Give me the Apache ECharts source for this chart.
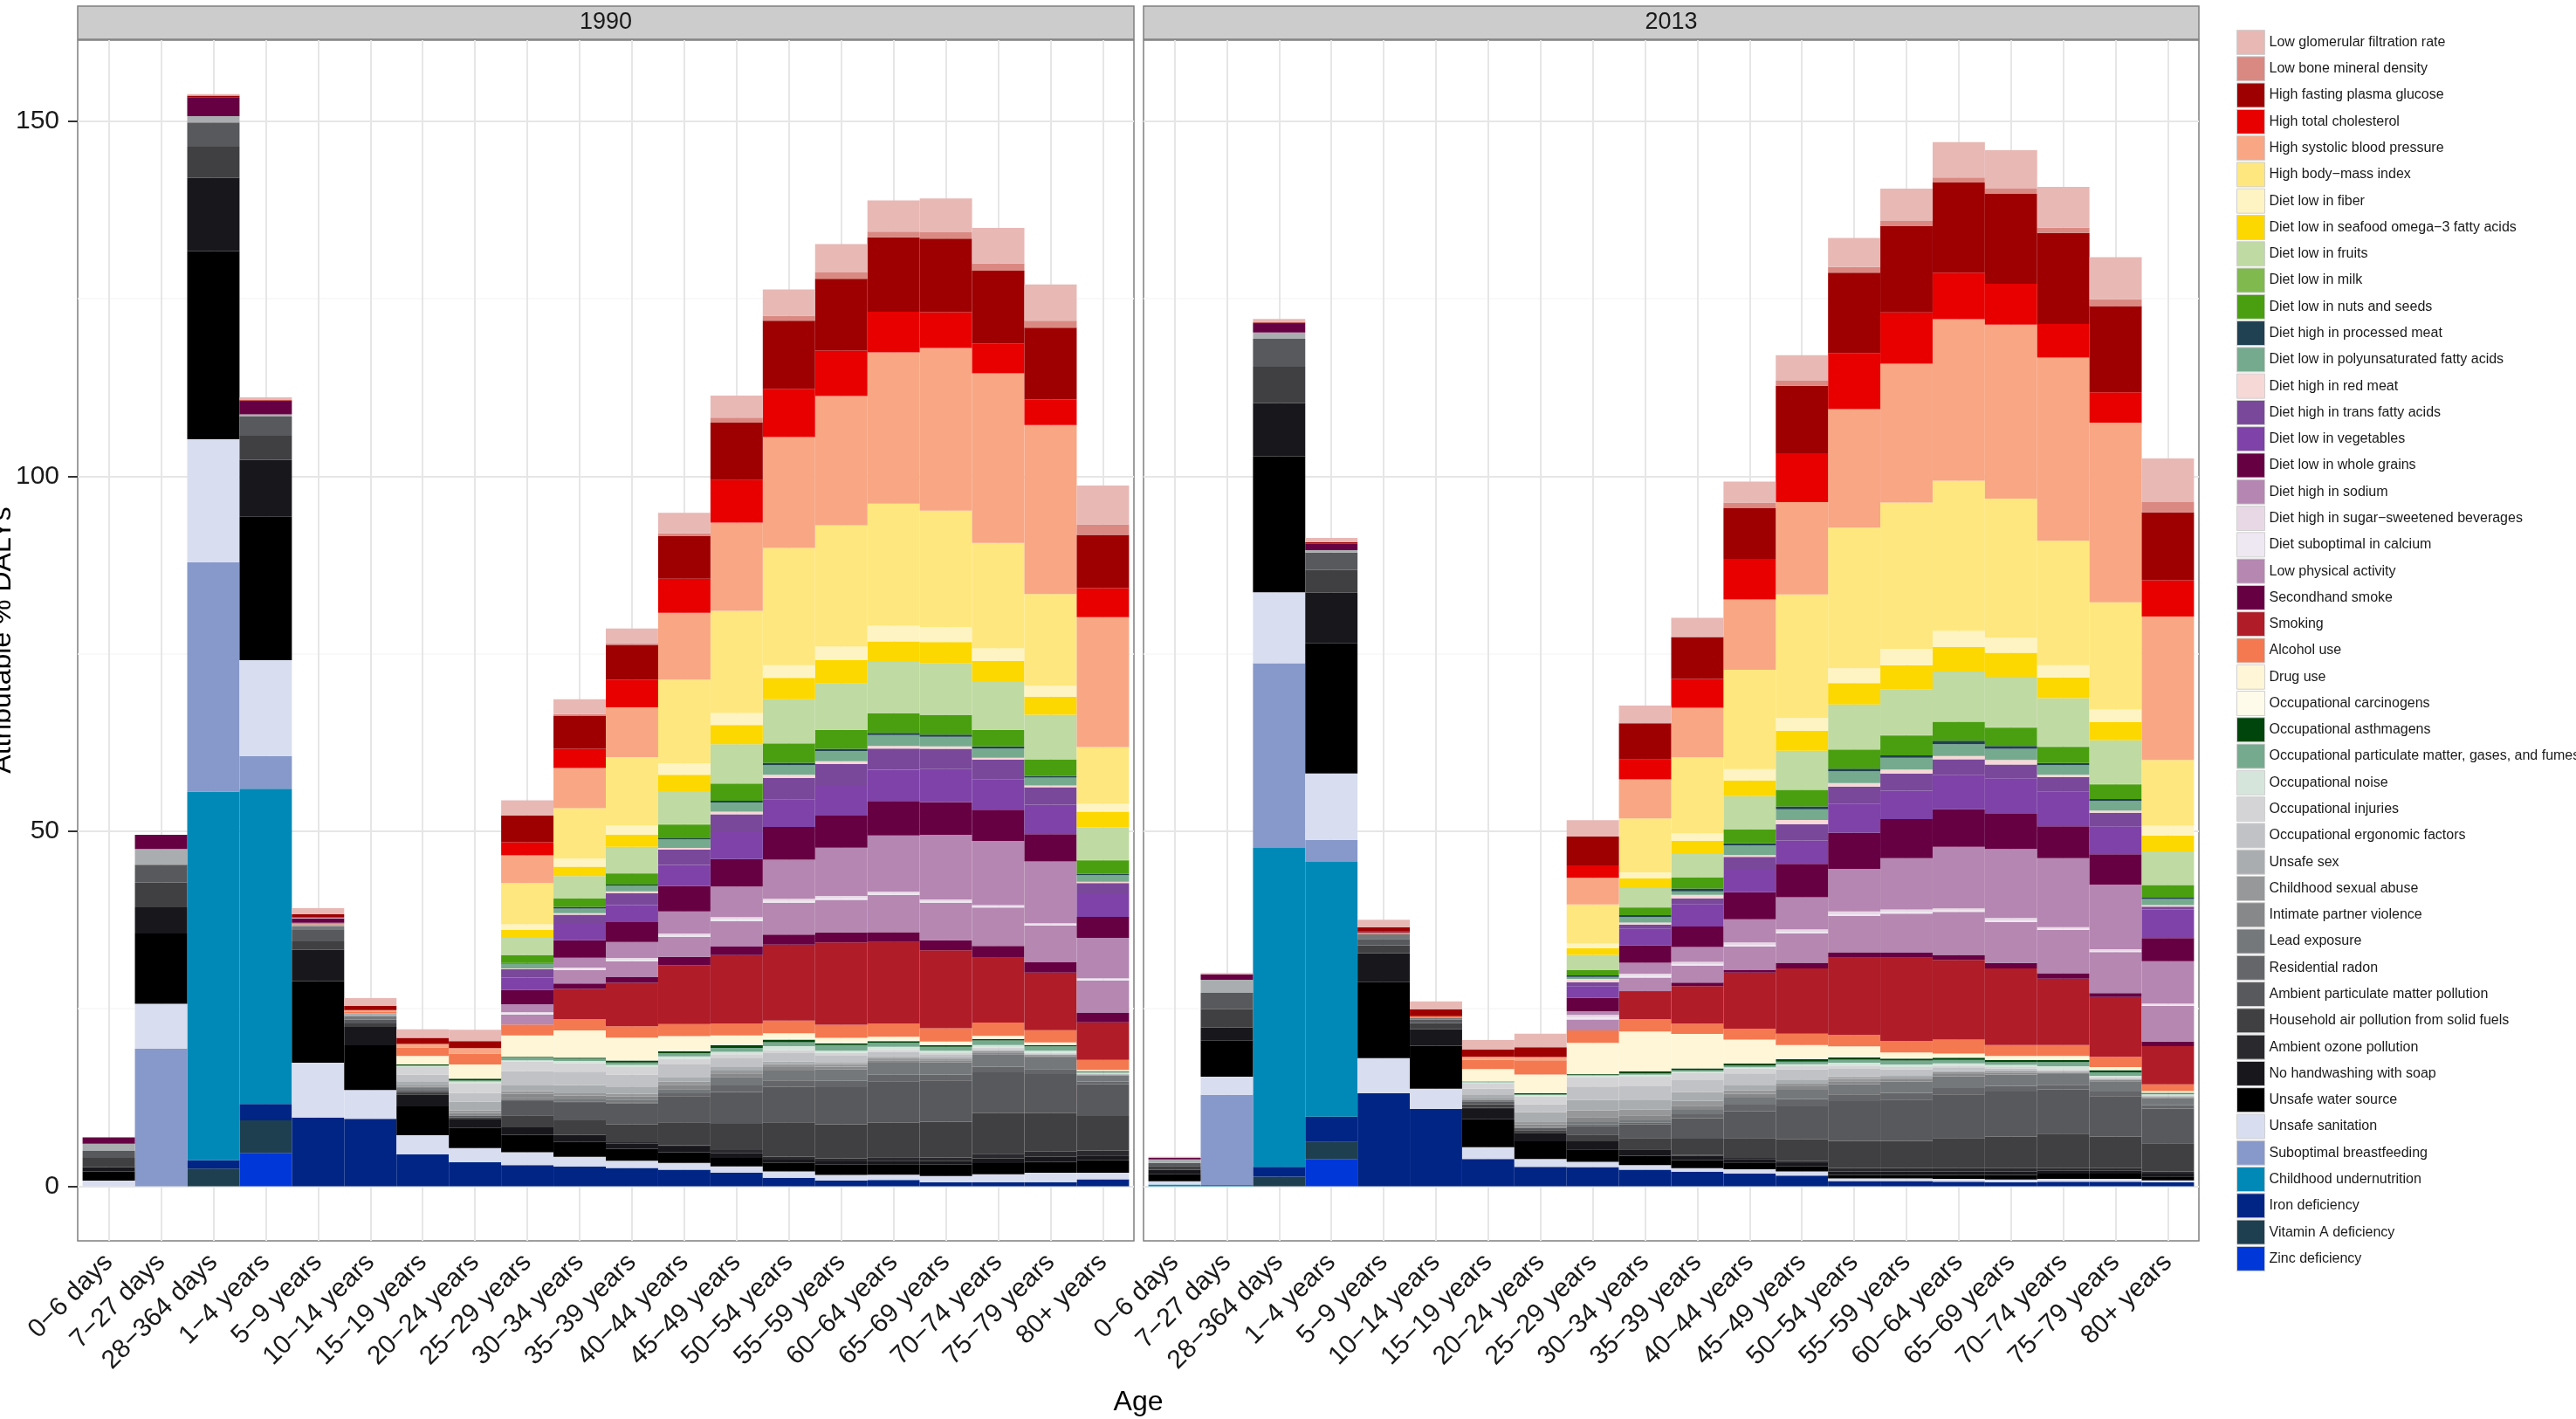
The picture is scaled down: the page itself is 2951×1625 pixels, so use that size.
<!DOCTYPE html>
<html><head><meta charset="utf-8">
<script src="https://cdn.jsdelivr.net/npm/echarts@6/dist/echarts.min.js"></script>
<style>html,body{margin:0;padding:0;background:#fff}#c{width:2951px;height:1625px}</style>
</head><body><div id="c"></div>
<script>
const ages = ['0\u22126 days','7\u221227 days','28\u2212364 days','1\u22124 years','5\u22129 years','10\u221214 years','15\u221219 years','20\u221224 years','25\u221229 years','30\u221234 years','35\u221239 years','40\u221244 years','45\u221249 years','50\u221254 years','55\u221259 years','60\u221264 years','65\u221269 years','70\u221274 years','75\u221279 years','80+ years'];
const years = ['1990','2013'];
const yTicks = [0,50,100,150];
const yMinor = [25,75,125];

// legend order (top of stack first)
const risks = ['Low glomerular filtration rate','Low bone mineral density','High fasting plasma glucose','High total cholesterol','High systolic blood pressure','High body\u2212mass index','Diet low in fiber','Diet low in seafood omega\u22123 fatty acids','Diet low in fruits','Diet low in milk','Diet low in nuts and seeds','Diet high in processed meat','Diet low in polyunsaturated fatty acids','Diet high in red meat','Diet high in trans fatty acids','Diet low in vegetables','Diet low in whole grains','Diet high in sodium','Diet high in sugar\u2212sweetened beverages','Diet suboptimal in calcium','Low physical activity','Secondhand smoke','Smoking','Alcohol use','Drug use','Occupational carcinogens','Occupational asthmagens','Occupational particulate matter, gases, and fumes','Occupational noise','Occupational injuries','Occupational ergonomic factors','Unsafe sex','Childhood sexual abuse','Intimate partner violence','Lead exposure','Residential radon','Ambient particulate matter pollution','Household air pollution from solid fuels','Ambient ozone pollution','No handwashing with soap','Unsafe water source','Unsafe sanitation','Suboptimal breastfeeding','Childhood undernutrition','Iron deficiency','Vitamin A deficiency','Zinc deficiency'];
const riskColors = ['#E8B8B5','#DA8982','#9E0002','#E80000','#F8A684','#FEE77E','#FEF4C3','#FDD700','#BFDAA2','#80B94E','#4A9F10','#1F4151','#76AA8F','#F6D8D6','#79489A','#7E42A8','#660043','#B586B1','#E8D8E6','#EEE8F3','#B587B1','#660043','#B01C28','#F47950','#FEF6D7','#FFFBEB','#00450B','#76AA8F','#D6E5DC','#D4D4D6','#C1C2C5','#AAADAF','#96989A','#87888A','#75787B','#646669','#58595C','#404043','#2A2A2E','#18181C','#000000','#D8DDEF','#8799CA','#0089B7','#002585','#1E3F4F','#0037D9'];

// ---- 1990 values (Attributable % DALYs), one entry per age group ----
const gfr_1990      = [0,0,0.2,0.4,0.86,1.1,1.2,1.6,2.1,2.1,2.1,2.9,3.1,3.7,4.0,4.4,4.75,5.0,5.1,5.5];
const bone_1990     = [0,0,0,0,0,0,0,0,0,0.2,0.2,0.4,0.7,0.7,0.9,0.8,0.9,1.0,1.0,1.45];
const fpg_1990      = [0,0,0.3,0.2,0.45,0.6,0.86,1.0,3.8,4.7,4.9,6.0,8.1,9.6,10.1,10.5,10.35,10.25,10.1,7.5];
const tc_1990       = [0,0,0,0,0,0,0,0,1.85,2.7,3.9,4.8,6.0,6.8,6.4,5.7,5.05,4.2,3.6,4.1];
const sbp_1990      = [0,0,0,0,0,0.25,0.5,0.75,3.9,5.65,7.0,9.4,12.4,15.6,18.2,21.3,22.9,23.9,23.8,18.3];
const bmi_1990      = [0,0,0,0,0,0,0,0,5.8,7.1,9.6,11.8,14.4,16.5,17.1,17.2,16.4,14.85,12.9,8.0];
const fiber_1990    = [0,0,0,0,0,0,0,0,0.8,1.15,1.35,1.6,1.7,1.8,1.9,2.2,2.1,1.75,1.55,1.1];
const seafood_1990  = [0,0,0,0,0,0,0,0,1.1,1.3,1.7,2.3,2.7,3.0,3.3,2.9,2.95,2.85,2.55,2.2];
const fruits_1990   = [0,0,0,0,0,0,0,0,2.4,3.1,3.7,4.65,5.5,6.2,6.5,7.2,7.3,6.85,6.25,4.6];
const milk_1990     = [0,0,0,0,0,0,0,0,0.05,0.05,0.05,0.05,0.05,0.05,0.05,0.05,0.05,0.05,0.05,0.05];
const nuts_1990     = [0,0,0,0,0,0,0,0,1.1,1.2,1.55,1.95,2.4,2.7,2.65,2.75,2.75,2.3,2.3,1.9];
const procmeat_1990 = [0,0,0,0,0,0,0,0,0.1,0.25,0.15,0.15,0.25,0.35,0.3,0.3,0.3,0.3,0.25,0.2];
const pufa_1990     = [0,0,0,0,0,0,0,0,0.65,0.65,0.8,1.2,1.3,1.35,1.45,1.55,1.35,1.3,1.1,0.9];
const redmeat_1990  = [0,0,0,0,0.1,0,0,0,0.1,0.2,0.25,0.2,0.35,0.45,0.35,0.35,0.35,0.25,0.25,0.2];
const trans_1990    = [0,0,0,0,0,0,0,0,1.2,1.3,1.7,2.2,2.4,3.0,3.0,3.0,2.85,2.75,2.45,1.45];
const veg_1990      = [0,0,0,0,0,0,0,0,1.75,2.3,2.4,2.95,3.9,3.9,4.3,4.4,4.65,4.3,4.15,3.3];
const grains_1990   = [0,0,0,0,0,0,0,0,2.0,2.45,2.8,3.6,3.9,4.6,4.5,4.85,4.6,4.4,3.85,2.95];
const sodium_1990   = [0,0,0,0,0,0,0,0,1.1,1.4,2.25,3.1,4.3,5.5,6.8,7.9,9.1,9.05,8.7,5.7];
const ssb_1990      = [0,0,0,0,0,0,0,0,0.2,0.2,0.25,0.3,0.3,0.3,0.3,0.3,0.25,0.2,0.2,0.15];
const calcium_1990  = [0,0,0,0,0,0,0,0,0.15,0.15,0.2,0.2,0.25,0.25,0.25,0.2,0.2,0.15,0.15,0.15];
const physical_1990 = [0,0,0,0,0,0,0,0,1.4,1.9,2.25,2.8,3.6,4.5,4.6,5.2,5.3,5.4,5.15,4.6];
const shsmoke_1990  = [0.9,2.0,2.6,1.8,0.65,0,0,0,0,0.75,0.8,1.15,1.2,1.4,1.4,1.4,1.4,1.65,1.45,1.3];
const smoking_1990  = [0,0,0,0,0,0,0,0,0,4.25,6.1,8.3,9.6,10.7,11.6,11.45,11.0,9.15,8.1,5.3];
const alcohol_1990  = [0,0,0,0,0.2,0.2,1.2,1.55,1.55,1.6,1.6,1.7,1.7,1.8,1.85,1.9,1.85,1.85,1.75,1.4];
const drug_1990     = [0,0,0,0,0,0,1.2,2.0,3.0,3.8,3.2,2.0,1.3,0.75,0.6,0.45,0.35,0.35,0.25,0.15];
const carcin_1990   = [0,0,0,0,0,0,0,0,0,0.05,0.05,0.1,0.1,0.15,0.15,0.15,0.15,0.1,0.1,0.05];
const asthma_1990   = [0,0,0,0,0,0,0.1,0.25,0.1,0.15,0.25,0.3,0.35,0.35,0.25,0.25,0.25,0.2,0.2,0.1];
const occpm_1990    = [0,0,0,0,0,0,0.1,0.15,0.4,0.3,0.35,0.45,0.55,0.55,0.8,0.55,0.55,0.65,0.6,0.1];
const noise_1990    = [0,0,0,0,0,0,0.15,0.3,0.15,0.35,0.3,0.35,0.35,0.55,0.3,0.45,0.35,0.35,0.3,0.05];
const injuries_1990 = [0,0,0,0,0,0,1.1,1.3,1.4,1.15,1.05,0.8,0.5,0.45,0.4,0.3,0.25,0.2,0.15,0.1];
const ergo_1990     = [0,0,0,0,0,0,0.9,1.25,2.0,1.9,1.7,1.85,1.3,1.15,0.9,0.6,0.35,0.2,0.1,0.05];
const unsafesex_1990= [1.0,2.2,0.9,0.3,0.3,0.2,0.5,1.2,0.8,1.15,1.0,0.55,0.5,0.4,0.3,0.25,0.15,0.1,0.05,0.05];
const csa_1990      = [0,0,0,0,0,0.2,0.3,0.35,0.4,0.35,0.4,0.45,0.4,0.4,0.35,0.3,0.25,0.2,0.15,0.1];
const ipv_1990      = [0,0,0,0,0,0,0.15,0.35,0.6,0.5,0.45,0.6,0.5,0.5,0.4,0.35,0.3,0.25,0.2,0.1];
const lead_1990     = [0,0,0,0,0.5,0.5,0.3,0.1,0.25,0.3,0.35,0.6,1.2,1.4,1.6,1.7,1.7,1.75,1.65,0.8];
const radon_1990    = [0,0,0,0,0,0,0,0,0.15,0.2,0.2,0.4,0.9,0.9,0.9,0.9,0.85,0.8,0.7,0.35];
const ambpm_1990    = [1.0,2.5,3.4,2.7,1.6,0.5,0.3,0.2,2.0,2.45,2.95,3.7,4.5,5.0,5.2,5.85,5.8,5.75,5.5,4.5];
const hap_1990      = [1.3,3.5,4.4,3.4,1.2,0.5,0.3,0.3,1.7,2.05,2.5,3.2,3.7,4.8,4.8,4.85,5.05,5.7,5.4,4.85];
const ozone_1990    = [0,0,0,0,0,0,0.1,0,0,0,0.2,0.2,0.45,0.45,0.45,0.5,0.5,0.65,0.7,0.7];
const handwash_1990 = [0.6,3.7,10.3,8.0,4.4,2.6,1.6,1.2,1.05,1.0,0.7,0.8,0.65,0.45,0.45,0.5,0.5,0.7,0.75,0.65];
const water_1990    = [1.3,9.9,26.5,20.2,11.5,6.3,4.05,2.8,2.45,2.1,1.7,1.5,1.2,1.2,1.45,1.45,1.6,1.55,1.55,1.8];
const sanit_1990    = [0.8,6.3,17.3,13.5,7.7,4.05,2.7,2.0,1.8,1.35,1.0,0.95,0.9,0.9,0.8,0.75,0.9,1.1,1.3,0.9];
const breast_1990   = [0,19.4,32.3,4.6,0,0,0,0,0,0,0,0,0,0,0,0,0,0,0,0];
const undernut_1990 = [0,0,51.9,44.4,0,0,0,0,0,0,0,0,0,0,0,0,0,0,0,0];
const iron_1990     = [0,0,1.2,2.3,9.7,9.5,4.5,3.4,3.0,2.8,2.6,2.35,1.9,1.2,0.8,0.9,0.55,0.6,0.6,1.0];
const vita_1990     = [0,0,2.5,4.6,0,0,0,0,0,0,0,0,0,0,0,0,0,0,0,0];
const zinc_1990     = [0,0,0,4.7,0,0,0,0,0,0,0,0,0,0,0,0,0,0,0,0];

// ---- 2013 values ----
const gfr_2013      = [0.15,0.2,0.5,0.6,1.1,1.1,1.35,1.9,2.3,2.5,2.7,2.95,3.6,4.1,4.55,5.0,5.4,5.75,5.95,6.15];
const bone_2013     = [0,0,0,0,0,0,0,0,0,0,0,0.75,0.7,0.8,0.75,0.7,0.75,0.75,0.95,1.45];
const fpg_2013      = [0,0,0.2,0.2,0.5,1.0,1.0,1.4,4.05,5.1,5.9,7.2,9.5,11.3,12.15,12.7,12.65,12.8,12.15,9.55];
const tc_2013       = [0,0,0,0,0,0,0,0,1.75,2.8,4.05,5.7,6.9,7.9,7.2,6.55,5.75,4.75,4.25,5.1];
const sbp_2013      = [0,0,0,0,0,0,0.45,0.45,3.75,5.5,7.0,9.9,13.0,16.7,19.55,22.75,24.5,25.8,25.3,20.2];
const bmi_2013      = [0,0,0,0,0,0,0,0,5.5,7.6,10.7,14.0,17.4,19.8,20.6,21.15,19.6,17.5,15.1,9.25];
const fiber_2013    = [0,0,0,0,0,0,0,0,0.65,0.85,1.05,1.6,1.8,2.1,2.3,2.25,2.1,1.75,1.75,1.4];
const seafood_2013  = [0,0,0,0,0,0,0,0,0.95,1.35,1.85,2.2,2.8,3.0,3.4,3.45,3.4,2.9,2.6,2.25];
const fruits_2013   = [0,0,0,0,0,0,0,0,2.1,2.7,3.25,4.65,5.5,6.3,6.45,7.05,7.1,6.8,6.15,4.7];
const milk_2013     = [0,0,0,0,0,0,0,0,0.05,0.05,0.05,0.05,0.05,0.05,0.05,0.05,0.05,0.05,0.05,0.05];
const nuts_2013     = [0,0,0,0,0,0,0,0,0.75,1.05,1.55,1.95,2.3,2.7,2.8,2.65,2.6,2.3,2.05,1.75];
const procmeat_2013 = [0,0,0,0,0,0,0,0,0.2,0.3,0.4,0.3,0.4,0.35,0.35,0.5,0.4,0.3,0.3,0.2];
const pufa_2013     = [0,0,0,0,0,0,0,0,0.3,0.75,0.5,1.35,1.5,1.65,1.65,1.65,1.55,1.35,1.35,0.85];
const redmeat_2013  = [0,0,0,0,0,0,0,0,0.45,0.3,0.5,0.25,0.6,0.5,0.6,0.45,0.65,0.3,0.3,0.2];
const trans_2013    = [0,0,0,0,0,0,0,0,0.55,0.55,0.8,1.7,2.3,2.4,2.4,2.25,1.95,2.1,1.9,0.4];
const veg_2013      = [0,0,0,0,0,0,0,0,1.65,2.4,3.15,3.3,3.3,4.1,4.0,4.8,5.0,4.85,3.95,4.05];
const grains_2013   = [0,0,0,0,0,0,0,0,1.9,2.4,2.9,3.8,4.7,5.1,5.5,5.3,4.95,4.5,4.25,3.25];
const sodium_2013   = [0,0,0,0,0,0,0,0,0.5,1.55,2.1,3.25,4.5,6.0,7.2,8.65,9.7,9.7,9.1,5.95];
const ssb_2013      = [0,0,0,0,0,0,0,0,0.35,0.3,0.3,0.35,0.35,0.4,0.35,0.3,0.35,0.25,0.25,0.2];
const calcium_2013  = [0,0,0,0,0,0,0,0,0.3,0.25,0.2,0.25,0.25,0.25,0.25,0.2,0.25,0.15,0.15,0.15];
const physical_2013 = [0,0,0,0,0,0,0,0,1.55,1.9,2.4,3.25,4.1,5.1,5.5,6.05,5.75,6.1,5.8,5.0];
const shsmoke_2013  = [0.2,0.75,1.2,0.9,0.2,0,0,0,0,0.1,0.5,0.4,0.8,0.75,0.7,0.7,0.75,0.75,0.55,0.65];
const smoking_2013  = [0,0,0,0,0,0,0,0,0,3.85,5.3,7.9,9.2,10.9,11.75,11.25,10.8,9.35,8.4,5.4];
const alcohol_2013  = [0,0,0,0,0.25,0.2,1.3,2.0,1.75,1.75,1.45,1.55,1.6,1.6,1.6,1.95,1.55,1.55,1.45,0.95];
const drug_2013     = [0,0,0,0,0,0,1.75,2.65,4.4,5.6,4.8,3.25,1.9,1.4,0.7,0.45,0.4,0.4,0.35,0.2];
const carcin_2013   = [0,0,0,0,0,0,0,0,0,0,0.05,0.1,0.1,0.15,0.15,0.15,0.15,0.15,0.1,0.05];
const asthma_2013   = [0,0,0,0,0,0,0.05,0.15,0.1,0.3,0.25,0.3,0.35,0.3,0.3,0.3,0.3,0.3,0.3,0.1];
const occpm_2013    = [0,0,0,0,0,0,0.05,0.1,0.1,0.2,0.2,0.25,0.35,0.45,0.55,0.5,0.4,0.6,0.5,0.1];
const noise_2013    = [0,0,0,0,0,0,0.1,0.2,0.2,0.25,0.2,0.15,0.2,0.4,0.35,0.3,0.3,0.4,0.25,0.05];
const injuries_2013 = [0,0,0,0,0,0,0.8,1.1,1.35,1.35,1.0,0.7,0.55,0.45,0.35,0.25,0.2,0.15,0.1,0.1];
const ergo_2013     = [0,0,0,0,0,0,0.8,1.1,1.9,1.9,1.7,1.6,1.4,1.05,0.8,0.5,0.3,0.15,0.1,0.1];
const unsafesex_2013= [0.5,1.85,0.9,0.35,0,0,0.5,1.3,1.45,1.4,1.2,0.8,0.5,0.35,0.25,0.2,0.1,0.05,0.05,0.05];
const csa_2013      = [0,0,0,0,0,0,0.3,0.4,0.95,0.8,0.7,0.5,0.45,0.35,0.3,0.25,0.2,0.15,0.1,0.1];
const ipv_2013      = [0,0,0,0,0,0,0,0.4,0.7,0.7,0.6,0.5,0.5,0.4,0.35,0.3,0.25,0.2,0.15,0.15];
const lead_2013     = [0,0,0,0,0.65,0.3,0.2,0.15,0.35,0.35,0.6,1.0,1.3,1.45,1.6,1.65,1.6,1.5,1.45,1.0];
const radon_2013    = [0,0,0,0,0,0,0,0,0.25,0.25,0.55,0.95,1.05,0.95,0.95,0.9,0.8,0.65,0.65,0.45];
const ambpm_2013    = [0.45,2.3,3.95,2.45,0.9,0.45,0.4,0.3,1.15,1.9,2.9,3.75,4.65,5.6,5.8,6.15,6.35,6.25,5.7,4.9];
const hap_2013      = [0.5,2.55,5.1,3.2,1.1,0.9,0.5,0.35,0.95,1.6,2.3,2.8,3.05,3.8,3.8,4.25,4.45,4.85,4.45,3.95];
const ozone_2013    = [0,0,0,0,0,0,0.15,0,0,0,0.1,0.15,0.3,0.5,0.5,0.45,0.45,0.35,0.35,0.3];
const handwash_2013 = [0.65,1.9,7.5,7.15,4.1,2.3,1.45,1.2,1.15,0.9,0.6,0.5,0.45,0.5,0.5,0.5,0.5,0.4,0.4,0.4];
const water_2013    = [1.0,5.05,19.15,18.3,10.7,6.05,3.95,2.5,1.75,1.3,1.15,0.95,0.7,0.5,0.5,0.55,0.65,0.75,0.75,0.55];
const sanit_2013    = [0.45,2.55,10.0,9.35,4.95,2.85,1.65,1.1,0.75,0.65,0.5,0.6,0.6,0.35,0.35,0.4,0.4,0.4,0.4,0.3];
const breast_2013   = [0,12.7,26.0,3.1,0,0,0,0,0,0,0,0,0,0,0,0,0,0,0,0];
const undernut_2013 = [0.25,0.2,44.9,35.9,0,0,0,0,0,0,0,0,0,0,0,0,0,0,0,0];
const iron_2013     = [0,0,1.4,3.55,13.1,10.9,3.85,2.75,2.7,2.35,2.05,1.8,1.5,0.75,0.75,0.65,0.55,0.65,0.65,0.55];
const vita_2013     = [0,0,1.35,2.4,0,0,0,0,0,0,0,0,0,0,0,0,0,0,0,0];
const zinc_2013     = [0,0,0,3.85,0,0,0,0,0,0,0,0,0,0,0,0,0,0,0,0];

const values1990 = [gfr_1990,bone_1990,fpg_1990,tc_1990,sbp_1990,bmi_1990,fiber_1990,seafood_1990,fruits_1990,milk_1990,nuts_1990,procmeat_1990,pufa_1990,redmeat_1990,trans_1990,veg_1990,grains_1990,sodium_1990,ssb_1990,calcium_1990,physical_1990,shsmoke_1990,smoking_1990,alcohol_1990,drug_1990,carcin_1990,asthma_1990,occpm_1990,noise_1990,injuries_1990,ergo_1990,unsafesex_1990,csa_1990,ipv_1990,lead_1990,radon_1990,ambpm_1990,hap_1990,ozone_1990,handwash_1990,water_1990,sanit_1990,breast_1990,undernut_1990,iron_1990,vita_1990,zinc_1990];
const values2013 = [gfr_2013,bone_2013,fpg_2013,tc_2013,sbp_2013,bmi_2013,fiber_2013,seafood_2013,fruits_2013,milk_2013,nuts_2013,procmeat_2013,pufa_2013,redmeat_2013,trans_2013,veg_2013,grains_2013,sodium_2013,ssb_2013,calcium_2013,physical_2013,shsmoke_2013,smoking_2013,alcohol_2013,drug_2013,carcin_2013,asthma_2013,occpm_2013,noise_2013,injuries_2013,ergo_2013,unsafesex_2013,csa_2013,ipv_2013,lead_2013,radon_2013,ambpm_2013,hap_2013,ozone_2013,handwash_2013,water_2013,sanit_2013,breast_2013,undernut_2013,iron_2013,vita_2013,zinc_2013];

const FONT = '"Liberation Sans", Arial, Helvetica, sans-serif';
const Y_MIN = -7.68, Y_MAX = 161.4;
const panels = [
  {left: 89, width: 1210, vals: values1990, label: years[0]},
  {left: 1310, width: 1209, vals: values2013, label: years[1]}
];
const TOP = 46, HEIGHT = 1375;
const EXP = 0.0935; // fraction of a category band between panel border and first bar

const chart = echarts.init(document.getElementById('c'), null, {renderer: 'canvas'});
const grid = [], xAxis = [], yAxis = [], series = [], graphic = [];

panels.forEach((p, k) => {
  const band = p.width / (ages.length + 2 * EXP);
  const inset = band * EXP;
  // helper grid = panel border + horizontal grid lines
  grid.push({left: p.left, top: TOP, width: p.width, height: HEIGHT, show: true,
    backgroundColor: '#fff', borderColor: '#7F7F7F', borderWidth: 1.5, z: 0});
  // data grid
  grid.push({left: p.left + inset, top: TOP, width: p.width - 2 * inset, height: HEIGHT, show: false});
  const hx = xAxis.length;
  xAxis.push({gridIndex: 2 * k, type: 'value', min: 0, max: 1, show: false});
  xAxis.push({gridIndex: 2 * k + 1, type: 'category', data: ages, boundaryGap: true,
    axisLine: {show: false},
    axisTick: {show: true, alignWithLabel: true, length: 11, lineStyle: {color: '#333', width: 2}},
    axisLabel: {interval: 0, rotate: 45, fontSize: 30, color: '#1a1a1a', fontFamily: FONT, margin: 20},
    splitLine: {show: false}});
  yAxis.push({gridIndex: 2 * k, type: 'value', min: Y_MIN, max: Y_MAX,
    axisLine: {show: false}, splitLine: {show: false},
    axisTick: {show: k === 0, customValues: yTicks, length: 11, lineStyle: {color: '#333', width: 2}},
    axisLabel: {show: k === 0, customValues: yTicks, fontSize: 30, color: '#1a1a1a', fontFamily: FONT, margin: 21}});
  yAxis.push({gridIndex: 2 * k + 1, type: 'value', min: Y_MIN, max: Y_MAX, show: false});

  // horizontal grid lines (major + minor)
  series.push({type: 'line', xAxisIndex: hx, yAxisIndex: 2 * k, data: [[0.5, Y_MIN - 100]],
    symbol: 'none', silent: true, lineStyle: {opacity: 0}, z: 0,
    markLine: {silent: true, symbol: ['none', 'none'], label: {show: false}, z: 1, animation: false,
      data: yTicks.map(v => ({yAxis: v, lineStyle: {color: '#E6E6E6', width: 2, type: 'solid'}}))
        .concat(yMinor.map(v => ({yAxis: v, lineStyle: {color: '#F7F7F7', width: 1.5, type: 'solid'}})))}});
  // vertical grid lines at category centres
  series.push({type: 'line', xAxisIndex: hx + 1, yAxisIndex: 2 * k + 1, data: ages.map(() => '-'),
    symbol: 'none', silent: true, lineStyle: {opacity: 0}, z: 0,
    markLine: {silent: true, symbol: ['none', 'none'], label: {show: false}, z: 1, animation: false,
      data: ages.map(a => ({xAxis: a, lineStyle: {color: '#E6E6E6', width: 2, type: 'solid'}}))}});

  // stacked bars: bottom of stack = last legend entry
  for (let r = risks.length - 1; r >= 0; r--) {
    series.push({type: 'bar', name: risks[r], xAxisIndex: hx + 1, yAxisIndex: 2 * k + 1,
      stack: 'stack' + p.label, barCategoryGap: '0%', data: p.vals[r], z: 3,
      itemStyle: {color: riskColors[r]}, emphasis: {disabled: true}, silent: true});
  }

  // facet strip
  graphic.push({type: 'rect', shape: {x: p.left, y: 7, width: p.width, height: 38},
    style: {fill: '#CCCCCC', stroke: '#7F7F7F', lineWidth: 1.5}, silent: true});
  graphic.push({type: 'text', x: p.left + p.width / 2, y: 26,
    style: {text: p.label, fontSize: 27, fontFamily: FONT, fill: '#1a1a1a', align: 'center', verticalAlign: 'middle'}});
});

graphic.push({type: 'text', x: 1304, y: 1606,
  style: {text: 'Age', fontSize: 32, fontFamily: FONT, fill: '#000', align: 'center', verticalAlign: 'middle'}});
graphic.push({type: 'text', x: 3, y: 733, rotation: Math.PI / 2,
  style: {text: 'Attributable % DALYs', fontSize: 32, fontFamily: FONT, fill: '#000', align: 'center', verticalAlign: 'middle'}});

chart.setOption({
  animation: false,
  backgroundColor: '#fff',
  textStyle: {fontFamily: FONT},
  grid, xAxis, yAxis, series, graphic,
  legend: {data: risks.slice(), orient: 'vertical', left: 2557, top: 29,
    itemWidth: 32, itemHeight: 28, itemGap: 1.28, icon: 'rect', selectedMode: false,
    itemStyle: {borderColor: '#D0D0D0', borderWidth: 1},
    textStyle: {fontSize: 16, color: '#1a1a1a', fontFamily: FONT}}
});
</script></body></html>
